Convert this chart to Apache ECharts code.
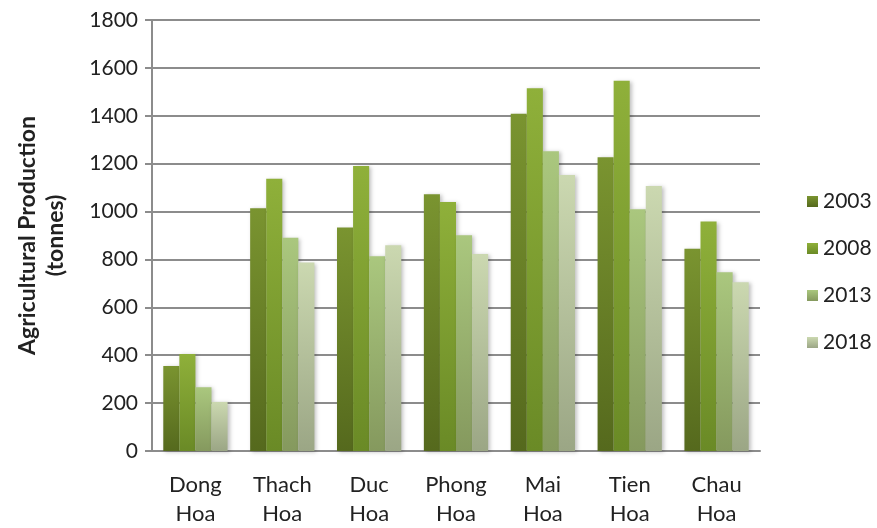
<!DOCTYPE html>
<html>
<head>
<meta charset="utf-8">
<script src="https://cdn.jsdelivr.net/npm/echarts@6/dist/echarts.min.js"></script>
<style>
  html, body { margin: 0; padding: 0; background: #fff; }
  #chart { width: 877px; height: 528px; }
</style>
</head>
<body>
<div id="chart"></div>
<script>
// Communes (x-axis categories)
const communes = ['Dong\nHoa', 'Thach\nHoa', 'Duc\nHoa', 'Phong\nHoa', 'Mai\nHoa', 'Tien\nHoa', 'Chau\nHoa'];

// Agricultural production (tonnes) per survey year
const years = ['2003', '2008', '2013', '2018'];
const prod2003 = [355, 1014, 933, 1072, 1408, 1227, 845];
const prod2008 = [405, 1137, 1190, 1040, 1515, 1546, 958];
const prod2013 = [266, 891, 813, 901, 1252, 1010, 746];
const prod2018 = [205, 787, 859, 823, 1153, 1107, 705];

// Y-axis ticks
const yMin = 0, yMax = 1800, yStep = 200;

// Top / bottom colours of each year's bar gradient
const shades = [
  ['#7a9430', '#55691d'],
  ['#8fb03a', '#6a8a26'],
  ['#aac77e', '#85995e'],
  ['#cbd8b0', '#9ba685']
];

const seriesValues = [prod2003, prod2008, prod2013, prod2018];
const fontFamily = 'Lato, "Open Sans", sans-serif';

const chart = echarts.init(document.getElementById('chart'), null, { renderer: 'canvas' });

chart.setOption({
  animation: false,
  backgroundColor: '#ffffff',
  grid: { left: 152, right: 117, top: 20, bottom: 77 },
  legend: {
    orient: 'vertical',
    left: 802,
    top: 186,
    itemWidth: 11,
    itemHeight: 11,
    itemGap: 26,
    icon: 'rect',
    textStyle: { fontFamily, fontSize: 21, color: '#222' },
    data: years
  },
  xAxis: {
    type: 'category',
    data: communes,
    axisLine: { lineStyle: { color: '#8c8c8c', width: 2 } },
    axisTick: { show: false },
    axisLabel: {
      fontFamily, fontSize: 22, color: '#222',
      lineHeight: 29, margin: 19, interval: 0
    }
  },
  yAxis: {
    type: 'value',
    min: yMin, max: yMax, interval: yStep,
    name: 'Agricultural Production\n(tonnes)',
    nameLocation: 'middle',
    nameGap: 82,
    nameTextStyle: { fontFamily, fontSize: 23, fontWeight: 'bold', color: '#222', lineHeight: 28 },
    axisLine: { show: true, lineStyle: { color: '#8c8c8c', width: 2 } },
    axisTick: { show: true, length: 7, lineStyle: { color: '#8c8c8c', width: 2 } },
    splitLine: { lineStyle: { color: '#8c8c8c', width: 2 } },
    axisLabel: { fontFamily, fontSize: 21, color: '#222', margin: 14, formatter: v => String(v) }
  },
  series: years.map((y, i) => ({
    name: y,
    type: 'bar',
    data: seriesValues[i],
    barGap: '0%',
    barCategoryGap: '26%',
    itemStyle: {
      color: new echarts.graphic.LinearGradient(0, 0, 0, 1, [
        { offset: 0, color: shades[i][0] },
        { offset: 1, color: shades[i][1] }
      ]),
      shadowColor: 'rgba(0,0,0,0.25)',
      shadowBlur: 4,
      shadowOffsetX: 2,
      shadowOffsetY: 1
    }
  }))
});
</script>
</body>
</html>
